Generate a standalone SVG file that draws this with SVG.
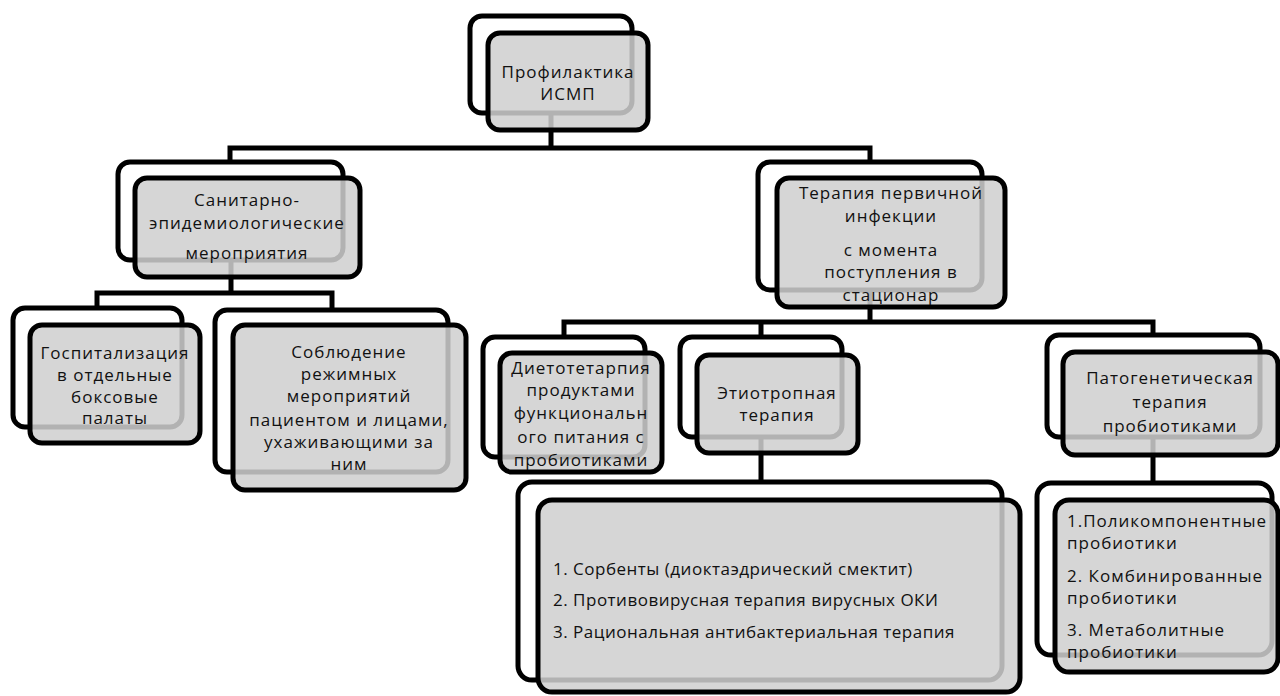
<svg xmlns="http://www.w3.org/2000/svg" width="1280" height="696" viewBox="0 0 1280 696">
<style>
.back{fill:#fff;stroke:#000;stroke-width:5}
.front{fill:#cfcfcf;fill-opacity:0.86;stroke:#000;stroke-width:5}
.conn{fill:none;stroke:#000;stroke-width:5}
text{font-family:"Open Sans","Noto Sans",sans-serif;font-size:17px;letter-spacing:1px;fill:#111}
.c{text-anchor:middle}
.l{letter-spacing:0.5px}
</style>
<rect width="1280" height="696" fill="#fff"/>
<g id="connectors">
<path class="conn" d="M551,113 V148 M230,162 V148 H870 V162"/>
<path class="conn" d="M231,260 V293 M97,308 V293 H332 V310"/>
<path class="conn" d="M870,290 V322 M564,337 V322 H1153 V335 M761,322 V337"/>
<path class="conn" d="M761,437 V482 M1153,437 V483"/>
</g>
<g id="n-top">
<rect class="back" x="470" y="16" width="162" height="97" rx="12"/>
<rect class="front" x="488" y="33" width="160" height="97" rx="12"/>
<text class="c" x="568" y="78">Профилактика</text>
<text class="c" x="568" y="100">ИСМП</text>
</g>
<g id="n-san">
<rect class="back" x="118" y="162" width="225" height="98" rx="12"/>
<rect class="front" x="135" y="178" width="225" height="99" rx="12"/>
<text class="c" x="247" y="206">Санитарно-</text>
<text class="c" x="247" y="229">эпидемиологические</text>
<text class="c" x="247" y="259">мероприятия</text>
</g>
<g id="n-ter">
<rect class="back" x="758" y="162" width="224" height="128" rx="12"/>
<rect class="front" x="777" y="178" width="228" height="129" rx="12"/>
<text class="c" x="891" y="199">Терапия первичной</text>
<text class="c" x="891" y="222">инфекции</text>
<text class="c" x="891" y="256">с момента</text>
<text class="c" x="891" y="278">поступления в</text>
<text class="c" x="891" y="301">стационар</text>
</g>
<g id="n-gosp">
<rect class="back" x="13" y="308" width="169" height="119" rx="12"/>
<rect class="front" x="30" y="325" width="170" height="118" rx="12"/>
<text class="c" x="115" y="359">Госпитализация</text>
<text class="c" x="115" y="381">в отдельные</text>
<text class="c" x="115" y="403">боксовые</text>
<text class="c" x="115" y="424">палаты</text>
</g>
<g id="n-sobl">
<rect class="back" x="215" y="310" width="233" height="162" rx="12"/>
<rect class="front" x="233" y="325" width="233" height="165" rx="12"/>
<text class="c" x="349" y="358">Соблюдение</text>
<text class="c" x="349" y="380">режимных</text>
<text class="c" x="349" y="402">мероприятий</text>
<text class="c" x="349" y="426">пациентом и лицами,</text>
<text class="c" x="349" y="448">ухаживающими за</text>
<text class="c" x="349" y="470">ним</text>
</g>
<g id="n-diet">
<rect class="back" x="483" y="337" width="162" height="120" rx="12"/>
<rect class="front" x="500" y="353" width="162" height="119" rx="12"/>
<text class="c" x="581" y="374">Диетотетарпия</text>
<text class="c" x="581" y="396">продуктами</text>
<text class="c" x="581" y="419">функциональн</text>
<text class="c" x="581" y="443">ого питания с</text>
<text class="c" x="581" y="466">пробиотиками</text>
</g>
<g id="n-etio">
<rect class="back" x="680" y="337" width="162" height="100" rx="12"/>
<rect class="front" x="697" y="355" width="161" height="98" rx="12"/>
<text class="c" x="777" y="399">Этиотропная</text>
<text class="c" x="777" y="421">терапия</text>
</g>
<g id="n-pato">
<rect class="back" x="1047" y="335" width="213" height="102" rx="12"/>
<rect class="front" x="1063" y="352" width="215" height="103" rx="12"/>
<text class="c" x="1170" y="384">Патогенетическая</text>
<text class="c" x="1170" y="408">терапия</text>
<text class="c" x="1170" y="432">пробиотиками</text>
</g>
<g id="n-list1">
<rect class="back" x="518" y="482" width="484" height="198" rx="14"/>
<rect class="front" x="538" y="500" width="482" height="192" rx="14"/>
<text class="l" x="553" y="575">1. Сорбенты (диоктаэдрический смектит)</text>
<text class="l" x="553" y="606">2. Противовирусная терапия вирусных ОКИ</text>
<text class="l" x="553" y="638">3. Рациональная антибактериальная терапия</text>
</g>
<g id="n-list2">
<rect class="back" x="1037" y="483" width="235" height="172" rx="14"/>
<rect class="front" x="1055" y="500" width="223" height="172" rx="14"/>
<text x="1067" y="527">1.Поликомпонентные</text>
<text x="1067" y="549">пробиотики</text>
<text x="1067" y="582">2. Комбинированные</text>
<text x="1067" y="604">пробиотики</text>
<text x="1067" y="636">3. Метаболитные</text>
<text x="1067" y="658">пробиотики</text>
</g>
</svg>
